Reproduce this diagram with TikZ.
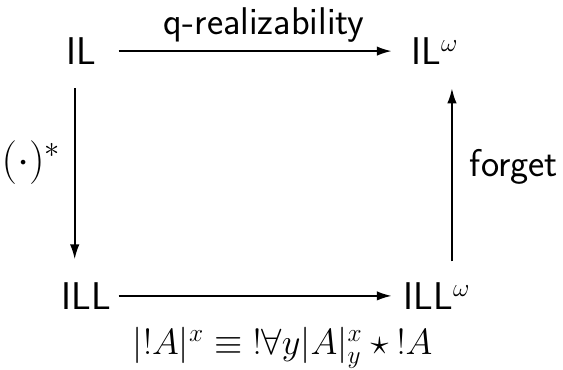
\documentclass[tikz,border=0pt]{standalone}
\usepackage{amsmath,amssymb}
\usetikzlibrary{arrows.meta,calc}

\begin{document}
\begin{tikzpicture}[
    x=0.02cm, y=-0.02cm,
    obj/.style={inner sep=0pt, anchor=base, font=\fontsize{22}{26}\selectfont\sffamily},
    lbl/.style={inner sep=0pt, font=\fontsize{22}{26}\selectfont\sffamily},
    mlbl/.style={inner sep=0pt, font=\fontsize{24}{28}\selectfont},
    arrow/.style={-{Latex[length=0.3cm,width=0.19cm]}, line width=1.1pt},
]
\useasboundingbox (0,0) rectangle (563,369);

% --- the four systems ---
\node[obj] (IL) at (81,64.5) {IL};
\node[obj] (ILw) at (435,64.5) {IL$^\omega$};
\node[obj] (ILL) at (86,309.3) {ILL};
\node[obj] (ILLw) at (437,309.3) {ILL$^\omega$};

% --- horizontal translations ---
\draw[arrow] ([xshift=0.152cm]IL -| ILL.east) -- ([xshift=-0.232cm]IL -| ILLw.west)
    node[lbl, midway, above=0.15cm, xshift=0.18cm] (qr) {q-realizability};
\draw[arrow] ([xshift=0.152cm]ILL.east) -- ([xshift=-0.232cm]ILL -| ILLw.west)
    node[mlbl, font=\fontsize{22.5}{27}\selectfont, midway, anchor=base, xshift=0.55cm, yshift=-1.18cm] (bang) {$|!A|^x \equiv {!}\forall y |A|^x_y \star {!}A$};

% --- vertical translations ---
\draw[arrow, shorten <=0.47cm, shorten >=0.456cm] ([xshift=0.178cm]IL.south west) -- ([xshift=0.178cm]IL.south west |- ILL.north)
    node[mlbl, midway, anchor=base east, xshift=-0.26cm] (star) {$(\cdot)^*$};
\draw[arrow, shorten <=0.416cm, shorten >=0.47cm] ([xshift=-0.137cm]ILw.south east |- ILL.north) -- ([xshift=-0.137cm]ILw.south east)
    node[lbl, midway, anchor=base west, xshift=0.34cm, yshift=-0.07cm] (fg) {forget};

\end{tikzpicture}
\end{document}
